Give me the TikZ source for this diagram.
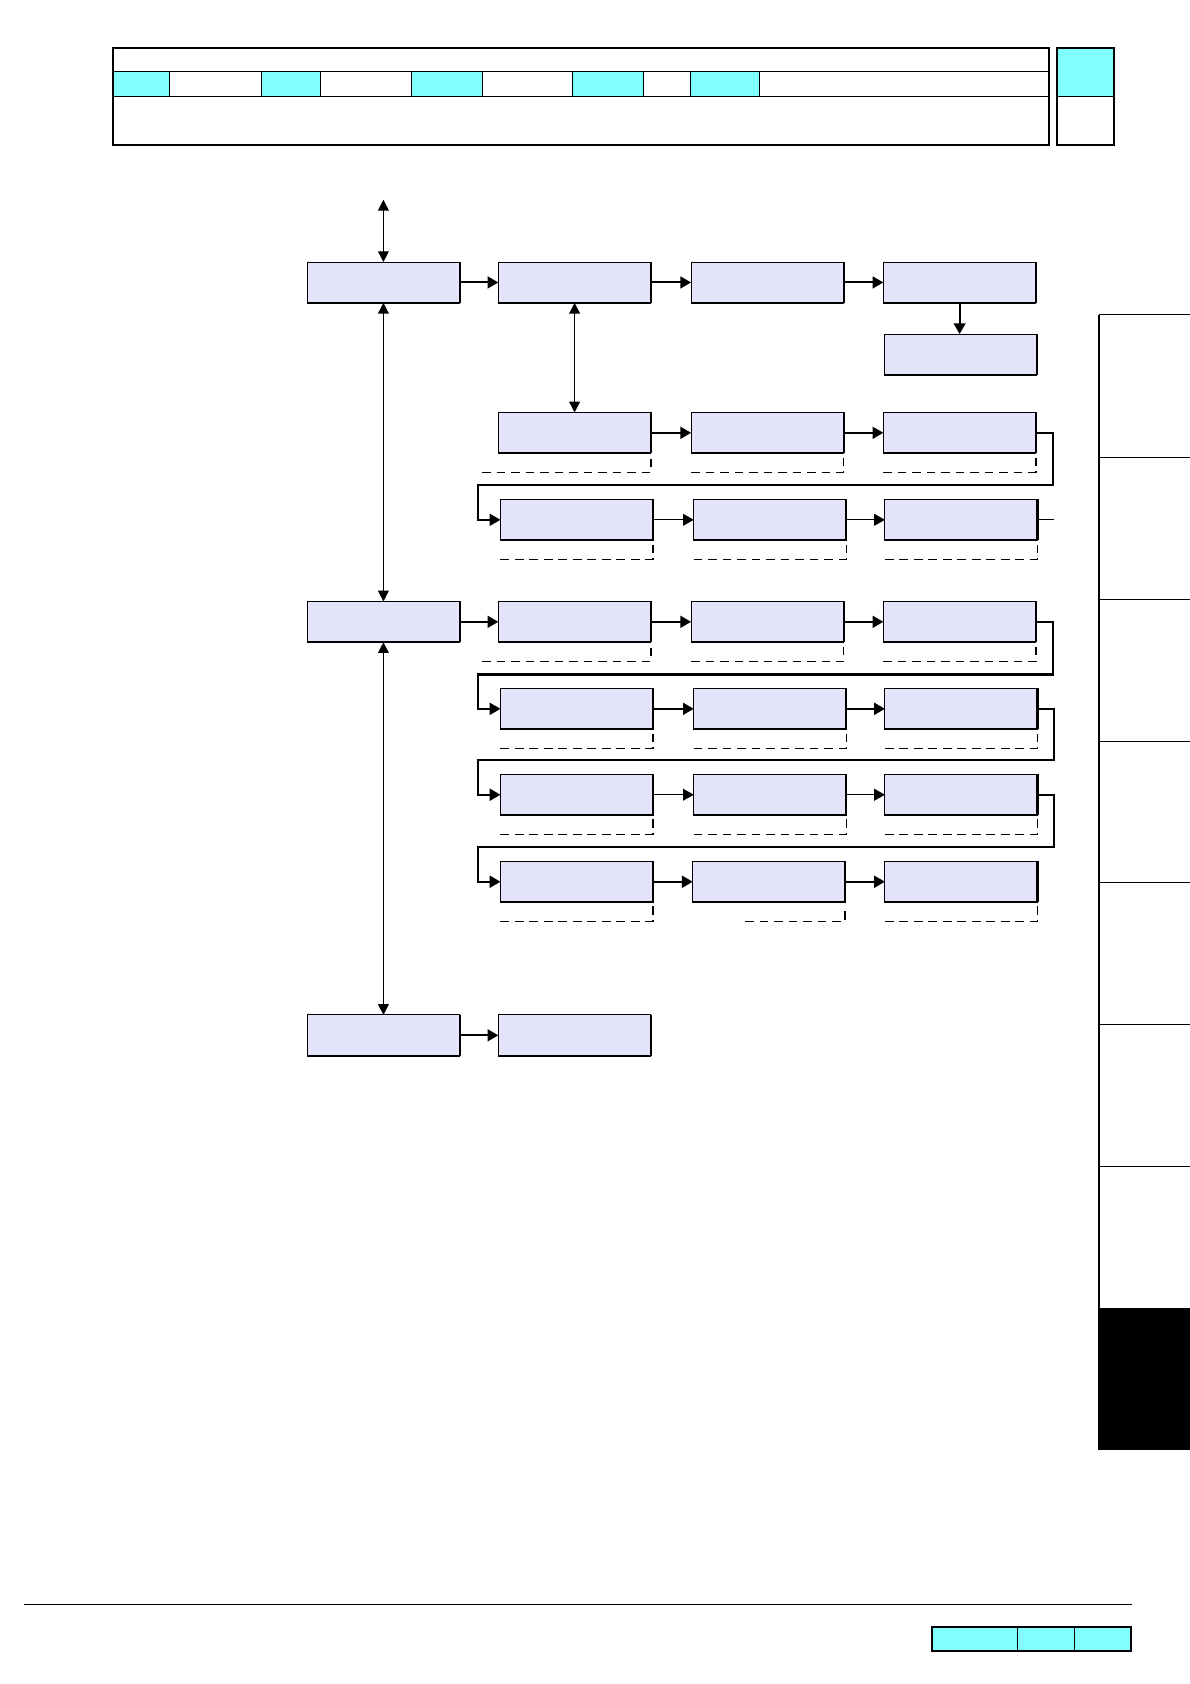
\documentclass[tikz,border=0pt]{standalone}
\usetikzlibrary{arrows.meta,calc}
\definecolor{boxfill}{HTML}{E3E3FA}
\definecolor{tabcyan}{HTML}{80FFFF}

\tikzset{
  shd/.style={draw, line width=1.1pt, -},
  blk/.style={draw, line width=0.5pt, fill=boxfill, inner sep=0pt, outer sep=0pt,
    minimum width=28.4mm, minimum height=7.6mm,
    append after command={(\tikzlastnode.north east) edge[shd] (\tikzlastnode.south east)
      (\tikzlastnode.south east) edge[shd] (\tikzlastnode.south west)}},
  lnk/.style={line width=1.1pt, -{Triangle[length=2mm,width=2.2mm]}},
  thinlnk/.style={line width=0.55pt, -{Triangle[length=2mm,width=2.2mm]}},
  dbl/.style={line width=0.7pt, {Triangle[length=2mm,width=2mm]}-{Triangle[length=2mm,width=2mm]}},
  dsh/.style={line width=0.8pt, dash pattern=on 1.6mm off 1.1mm},
  frm/.style={line width=1.2pt}
}

% dashed line under a box: #1 node, #2 left offset
\newcommand\underdash[2]{%
  \draw[dsh] ($(#1.south west)+(#2,18)$) -- ($(#1.south east)+(0,18)$) -- ($(#1.south east)+(0,4)$);}

\begin{document}
\begin{tikzpicture}[x=0.2mm, y=-0.2mm]
  \useasboundingbox (0,0) rectangle (1108,1568);

  % header
  \foreach \xa/\xb in {105/158, 243/298, 383/449, 533/599, 643/707}
    \fill[tabcyan] (\xa,67) rectangle (\xb,90);
  \draw[line width=0.5pt] (105,67) -- (977,67) (105,90) -- (977,90);
  \foreach \xx in {158, 243, 298, 383, 449, 533, 599, 643, 707}
    \draw[line width=0.5pt] (\xx,67) -- (\xx,90);
  \draw[frm] (105,45) rectangle (977,135);
  \fill[tabcyan] (984,45) rectangle (1037,90);
  \draw[line width=0.5pt] (984,90) -- (1037,90);
  \draw[frm] (984,45) rectangle (1037,135);

  % side tabs
  \fill[black] (1023,1218) rectangle (1108,1350);
  \foreach \yy in {293, 426, 558, 690, 822, 954, 1086}
    \draw[line width=0.5pt] (1023,\yy) -- (1108,\yy);
  \draw[line width=0.9pt] (1023,293) -- (1023,1350);

  % footer
  \draw[line width=1pt] (22,1494) -- (1054,1494);
  \fill[tabcyan] (868,1515) rectangle (1053,1537);
  \draw[line width=0.5pt] (947,1515) -- (947,1537) (1000,1515) -- (1000,1537);
  \draw[frm] (868,1515) rectangle (1053,1537);

  % boxes
  \node[blk] (a1) at (357,263) {};
  \node[blk] (a2) at (535,263) {};
  \node[blk] (a3) at (714.5,263) {};
  \node[blk] (a4) at (893.5,263) {};
  \node[blk] (a5) at (894.5,330) {};

  \node[blk] (b1) at (535,403) {};
  \node[blk] (b2) at (714.5,403) {};
  \node[blk] (b3) at (893.5,403) {};

  \node[blk] (c1) at (537,484) {};
  \node[blk] (c2) at (717,484) {};
  \node[blk] (c3) at (895,484) {};

  \node[blk] (d1) at (357,579) {};
  \node[blk] (d2) at (535,579) {};
  \node[blk] (d3) at (714.5,579) {};
  \node[blk] (d4) at (893.5,579) {};

  \node[blk] (e1) at (537,660) {};
  \node[blk] (e2) at (717,660) {};
  \node[blk] (e3) at (895,660) {};

  \node[blk] (f1) at (537,740) {};
  \node[blk] (f2) at (717,740) {};
  \node[blk] (f3) at (895,740) {};

  \node[blk] (g1) at (537,821) {};
  \node[blk] (g2) at (716,821) {};
  \node[blk] (g3) at (895,821) {};

  \node[blk] (h1) at (357,964) {};
  \node[blk] (h2) at (535,964) {};

  % vertical links
  \coordinate (top) at (357,186);
  \draw[dbl] (top) -- (a1.north);
  \draw[dbl] (a1.south) -- (d1.north);
  \draw[dbl] (d1.south) -- (h1.north);
  \draw[dbl] (a2.south) -- (b1.north);
  \draw[lnk] (a4.south) -- (a4.south |- a5.north);

  % rows
  \draw[lnk] (a1) -- (a2);
  \draw[lnk] (a2) -- (a3);
  \draw[lnk] (a3) -- (a4);
  \draw[lnk] (b1) -- (b2);
  \draw[lnk] (b2) -- (b3);
  \draw[thinlnk] (c1) -- (c2);
  \draw[thinlnk] (c2) -- (c3);
  \coordinate (cend) at ($(c3.east)+(15,0)$);
  \draw[line width=0.5pt] (c3.east) -- (cend);
  \draw[lnk] (d1) -- (d2);
  \draw[lnk] (d2) -- (d3);
  \draw[lnk] (d3) -- (d4);
  \draw[lnk] (e1) -- (e2);
  \draw[lnk] (e2) -- (e3);
  \draw[thinlnk] (f1) -- (f2);
  \draw[thinlnk] (f2) -- (f3);
  \draw[lnk] (g1) -- (g2);
  \draw[lnk] (g2) -- (g3);
  \draw[lnk] (h1) -- (h2);

  % wrap-around links
  \draw[lnk] (b3.east) -- ++(16,0) -- ++(0,49) -| ($(c1.west)+(-21,0)$) -- (c1.west);
  \draw[lnk] (d4.east) -- ++(16,0) -- ++(0,49) -| ($(e1.west)+(-21,0)$) -- (e1.west);
  \draw[lnk] (e3.east) -- ++(15,0) -- ++(0,48) -| ($(f1.west)+(-21,0)$) -- (f1.west);
  \draw[lnk] (f3.east) -- ++(15,0) -- ++(0,49) -| ($(g1.west)+(-21,0)$) -- (g1.west);

  % dashed marks under boxes
  \underdash{b1}{-15}
  \underdash{b2}{0}
  \underdash{b3}{0}
  \underdash{c1}{0}
  \underdash{c2}{0}
  \underdash{c3}{0}
  \underdash{d2}{-15}
  \underdash{d3}{0}
  \underdash{d4}{0}
  \underdash{e1}{0}
  \underdash{e2}{0}
  \underdash{e3}{0}
  \underdash{f1}{0}
  \underdash{f2}{0}
  \underdash{f3}{0}
  \underdash{g1}{0}
  \underdash{g2}{49}
  \underdash{g3}{0}
\end{tikzpicture}
\end{document}
